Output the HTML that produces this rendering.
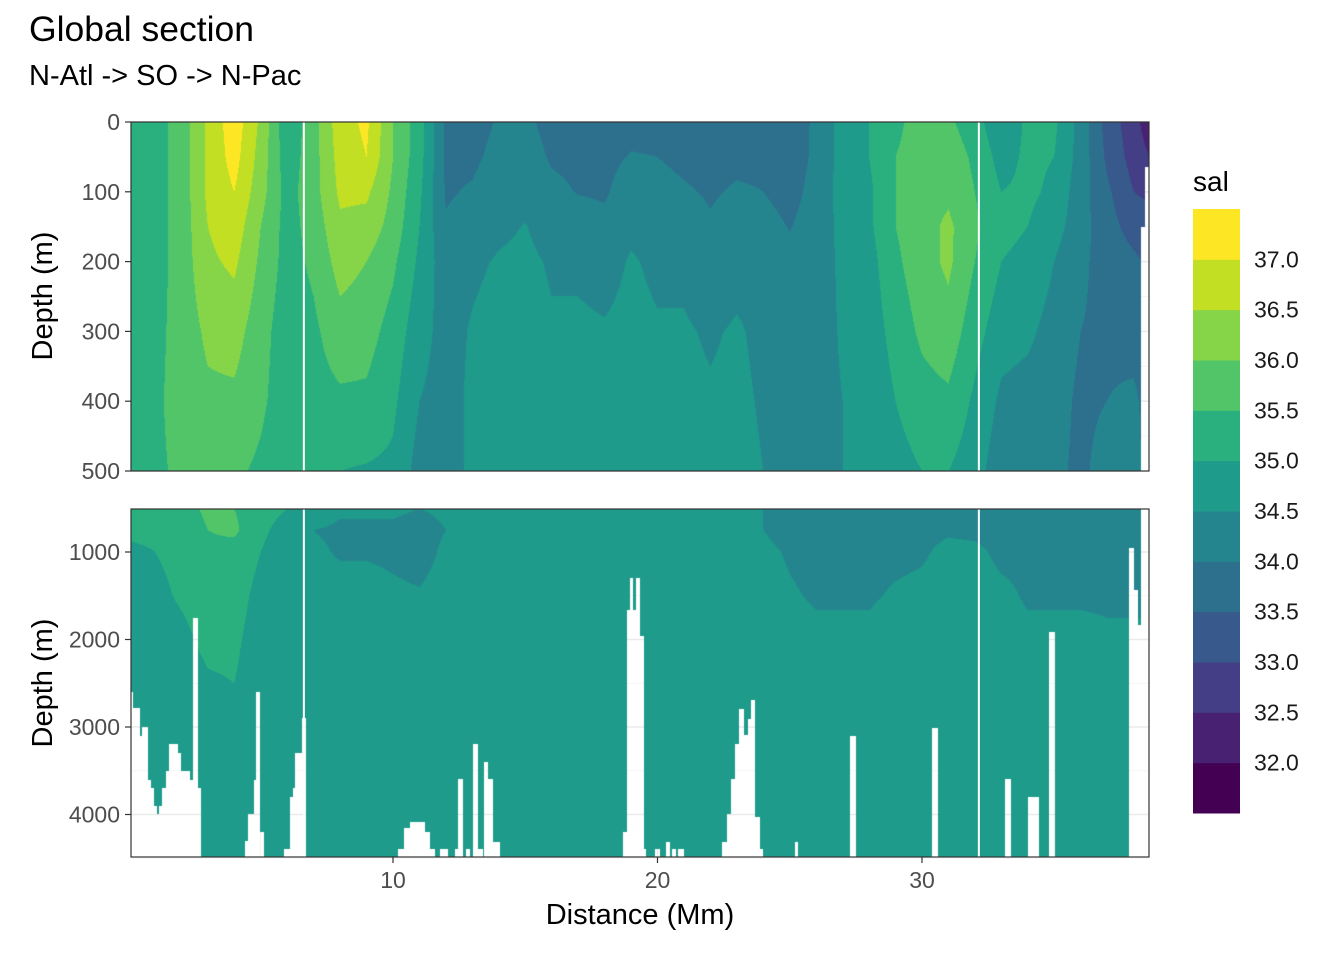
<!DOCTYPE html>
<html><head><meta charset="utf-8">
<style>
html,body{margin:0;padding:0;background:#fff;}
#wrap{position:relative;width:1344px;height:960px;overflow:hidden;font-family:"Liberation Sans",Arial,sans-serif;}
svg,canvas{position:absolute;left:0;top:0;}
</style></head>
<body>
<div id="wrap">
<svg id="bg" width="1344" height="960"></svg>
<canvas id="cTop" width="1018" height="349" style="left:131px;top:122px"></canvas>
<canvas id="cBot" width="1018" height="348" style="left:131px;top:509px"></canvas>
<svg id="fg" width="1344" height="960">
  <text x="29" y="41" font-size="35.5" fill="#000">Global section</text>
  <text x="29" y="85" font-size="29" fill="#000">N-Atl -&gt; SO -&gt; N-Pac</text>
  <text x="640" y="924" font-size="29" text-anchor="middle" fill="#000">Distance (Mm)</text>
  <text transform="translate(52,296) rotate(-90)" font-size="29" text-anchor="middle" fill="#000">Depth (m)</text>
  <text transform="translate(52,683) rotate(-90)" font-size="29" text-anchor="middle" fill="#000">Depth (m)</text>
  <text x="1193" y="191" font-size="28" fill="#000">sal</text>
  <g id="legend"></g>
  <g id="axes"></g>
</svg>
</div>
<script>
// ---- data ----
const stationX = [0,1,2,3,4,5,6,7,8,9,10,11,12,13,14,15,16,17,18,19,20,21,22,23,24,25,26,27,28,29,30,31,32,33,34,35,36,37,38,38.6];
const topDepths = [0,50,100,150,200,300,400,500];
const topSal = [
[35.2,35.2,35.2,35.2,35.2,35.2,35.2,35.2],
[35.3,35.3,35.3,35.3,35.3,35.35,35.4,35.4],
[35.7,35.7,35.7,35.7,35.7,35.7,35.7,35.6],
[36.6,36.6,36.6,36.5,36.4,36.1,35.9,35.7],
[37.3,37.2,37.0,36.8,36.6,36.2,35.9,35.6],
[36.4,36.3,36.2,36.0,35.9,35.7,35.6,35.4],
[35.1,35.2,35.3,35.3,35.3,35.2,35.2,35.1],
[35.8,35.8,35.8,35.7,35.6,35.4,35.3,35.0],
[36.8,36.7,36.6,36.4,36.2,35.8,35.4,35.0],
[37.1,37.0,36.6,36.3,36.0,35.7,35.4,34.95],
[36.0,36.0,35.9,35.8,35.6,35.3,35.1,34.9],
[35.2,35.2,35.1,35.0,34.9,34.7,34.5,34.3],
[33.9,33.9,33.95,34.05,34.2,34.3,34.3,34.3],
[33.8,33.9,34.05,34.2,34.4,34.55,34.6,34.6],
[34.05,34.15,34.3,34.4,34.55,34.7,34.7,34.7],
[34.1,34.2,34.35,34.52,34.6,34.7,34.7,34.7],
[33.85,33.95,34.1,34.3,34.45,34.55,34.6,34.7],
[33.8,33.9,33.98,34.2,34.4,34.6,34.65,34.7],
[33.8,33.9,33.95,34.1,34.3,34.55,34.6,34.7],
[33.9,34.02,34.2,34.4,34.55,34.65,34.7,34.7],
[33.9,34.0,34.15,34.3,34.4,34.55,34.6,34.7],
[33.8,33.9,34.05,34.25,34.4,34.55,34.6,34.7],
[33.8,33.85,33.95,34.05,34.2,34.45,34.55,34.65],
[33.8,33.9,34.05,34.2,34.35,34.55,34.6,34.65],
[33.8,33.9,34.0,34.15,34.3,34.4,34.45,34.5],
[33.7,33.75,33.85,33.98,34.1,34.2,34.25,34.3],
[34.1,34.1,34.15,34.2,34.25,34.3,34.35,34.4],
[34.7,34.7,34.7,34.65,34.6,34.55,34.5,34.5],
[35.0,35.0,34.9,34.9,34.8,34.7,34.6,34.5],
[35.4,35.5,35.5,35.5,35.4,35.2,35.0,34.8],
[35.7,35.7,35.8,35.8,35.8,35.6,35.3,35.0],
[35.6,35.8,35.9,36.1,36.1,35.8,35.4,35.0],
[35.2,35.4,35.5,35.6,35.5,35.2,34.9,34.7],
[34.6,34.8,35.0,35.1,35.0,34.7,34.4,34.2],
[35.1,35.1,35.1,35.0,34.9,34.6,34.3,34.2],
[35.1,35.0,34.9,34.7,34.5,34.3,34.2,34.1],
[34.3,34.3,34.2,34.2,34.1,34.0,33.9,33.9],
[33.3,33.4,33.6,33.7,33.8,33.9,34.0,34.2],
[32.7,32.8,33.0,33.3,33.6,33.8,34.1,34.2],
[32.2,32.5,32.9,33.2,33.4,33.7,33.8,33.8]
];
const botDepths = [500,750,1000,1500,2000,2500,3000,4500];
const botSal = [
[35.2,35.1,34.9,34.8,34.75,34.7,34.7,34.7],
[35.2,35.1,35.0,34.9,34.8,34.7,34.7,34.7],
[35.3,35.2,35.1,35.05,34.9,34.8,34.7,34.7],
[35.6,35.5,35.4,35.2,35.1,34.95,34.8,34.7],
[35.5,35.6,35.3,35.2,35.1,35.0,34.8,34.7],
[35.2,35.1,35.0,34.85,34.75,34.7,34.7,34.7],
[35.0,34.8,34.7,34.7,34.7,34.7,34.7,34.7],
[34.9,34.5,34.6,34.7,34.7,34.7,34.7,34.7],
[34.6,34.4,34.45,34.7,34.7,34.7,34.7,34.7],
[34.6,34.4,34.45,34.7,34.7,34.7,34.7,34.7],
[34.6,34.4,34.4,34.6,34.7,34.7,34.7,34.7],
[34.5,34.3,34.3,34.55,34.7,34.7,34.7,34.7],
[34.6,34.5,34.6,34.7,34.7,34.7,34.7,34.7],
[34.6,34.6,34.7,34.7,34.7,34.7,34.7,34.7],
[34.6,34.6,34.7,34.7,34.7,34.7,34.7,34.7],
[34.6,34.6,34.7,34.7,34.7,34.7,34.7,34.7],
[34.6,34.6,34.7,34.7,34.7,34.7,34.7,34.7],
[34.6,34.6,34.7,34.7,34.7,34.7,34.7,34.7],
[34.6,34.6,34.7,34.7,34.7,34.7,34.7,34.7],
[34.6,34.6,34.7,34.7,34.7,34.7,34.7,34.7],
[34.6,34.6,34.7,34.7,34.7,34.7,34.7,34.7],
[34.6,34.6,34.7,34.7,34.7,34.7,34.7,34.7],
[34.6,34.6,34.7,34.7,34.7,34.7,34.7,34.7],
[34.5,34.5,34.6,34.7,34.7,34.7,34.7,34.7],
[34.5,34.5,34.6,34.7,34.7,34.7,34.7,34.7],
[34.3,34.35,34.45,34.55,34.7,34.7,34.7,34.7],
[34.2,34.3,34.35,34.45,34.6,34.7,34.7,34.7],
[34.2,34.3,34.35,34.45,34.6,34.7,34.7,34.7],
[34.2,34.3,34.35,34.45,34.6,34.7,34.7,34.7],
[34.3,34.35,34.4,34.55,34.7,34.7,34.7,34.7],
[34.3,34.4,34.45,34.6,34.7,34.7,34.7,34.7],
[34.4,34.45,34.6,34.7,34.7,34.7,34.7,34.7],
[34.3,34.4,34.6,34.7,34.7,34.7,34.7,34.7],
[34.2,34.3,34.4,34.6,34.7,34.7,34.7,34.7],
[34.2,34.3,34.4,34.45,34.6,34.7,34.7,34.7],
[34.2,34.3,34.4,34.45,34.6,34.7,34.7,34.7],
[34.2,34.3,34.4,34.45,34.6,34.7,34.7,34.7],
[34.3,34.35,34.4,34.45,34.55,34.7,34.7,34.7],
[34.3,34.35,34.4,34.45,34.55,34.7,34.7,34.7],
[34.3,34.35,34.4,34.45,34.55,34.7,34.7,34.7]
];
// bathymetry: [xStart Mm, xEnd Mm, seafloor depth m]
const bottomSegments = [
[0.0,0.17,2600],[0.17,0.43,2780],[0.43,0.51,3100],[0.51,0.74,3000],[0.74,0.85,3610],[0.85,0.96,3700],
[0.96,1.08,3900],[1.08,1.15,4000],[1.15,1.27,3900],[1.27,1.42,3700],[1.42,1.53,3500],[1.53,1.87,3200],
[1.87,1.98,3300],[1.98,2.33,3500],[2.33,2.44,3610],[2.44,2.63,1750],[2.63,2.74,3700],
[4.40,4.52,4300],[4.52,4.74,4000],[4.74,4.82,3610],[4.82,4.97,2600],[4.97,5.12,4200],
[5.88,6.10,4400],[6.10,6.22,3800],[6.22,6.29,3700],[6.29,6.56,3300],[6.56,6.71,2900],
[10.19,10.42,4400],[10.42,10.64,4150],[10.64,11.21,4090],[11.21,11.40,4200],[11.40,11.59,4400],
[11.77,12.08,4400],[12.34,12.46,4400],[12.46,12.65,3600],[12.76,12.90,4400],[13.02,13.21,3200],
[13.21,13.40,4400],[13.44,13.59,3400],[13.59,13.78,3600],[13.78,14.05,4310],
[18.69,18.85,4200],[18.85,18.96,1660],[18.96,19.07,1300],[19.07,19.19,1660],[19.19,19.34,1300],
[19.34,19.49,1960],[19.49,19.57,4400],[19.90,20.08,4400],[20.31,20.47,4310],[20.55,20.70,4400],[20.77,21.00,4400],
[22.44,22.63,4310],[22.63,22.78,4000],[22.78,22.93,3600],[22.93,23.08,3200],[23.08,23.27,2800],
[23.27,23.42,3090],[23.42,23.53,2910],[23.53,23.68,2690],[23.68,23.87,4030],[23.87,23.99,4400],
[25.20,25.31,4310],[27.28,27.51,3100],[30.38,30.60,3010],[33.14,33.36,3600],[34.02,34.44,3800],
[34.80,35.03,1910],[37.83,38.02,955],[38.02,38.17,1430],[38.17,38.28,1840],[38.28,38.43,150],[38.43,38.8,65]
];
const sectionBreaks = [6.63, 32.15];
const legendBreaks = [32.0,32.5,33.0,33.5,34.0,34.5,35.0,35.5,36.0,36.5,37.0];
const legendColors = ["#440154","#482173","#433E85","#38598C","#2D708E","#25858E","#1E9B8A","#2AB07F","#52C569","#86D549","#C2DF23","#FDE725"];
const xTicks = [10,20,30];
const xMinorTicks = [5,15,25,35];
const topTicks = [0,100,200,300,400,500];
const topMinor = [50,150,250,350,450];
const botTicks = [1000,2000,3000,4000];
const botMinor = [1500,2500,3500,4500];

// ---- scales ----
const PX0=131, PX1=1149, XMIN=0.095, XK=26.45;
const xS = x => PX0 + (x - XMIN) * XK;
const xInv = px => XMIN + (px - PX0) / XK;
const topY = d => 122 + d * 0.698;
const topInv = py => (py - 122) / 0.698;
const botY = d => 552 + (d - 1000) * 0.0875;
const botInv = py => 1000 + (py - 552) / 0.0875;
const NS='http://www.w3.org/2000/svg';
function mk(parent, tag, attrs){const e=document.createElementNS(NS,tag);for(const k in attrs)e.setAttribute(k,attrs[k]);parent.appendChild(e);return e;}

// ---- grid ----
const bg=document.getElementById('bg');
function gridPanel(y0,y1,yf,maj,min){
  for(const t of min){const l=mk(bg,'line',{x1:PX0,x2:PX1,y1:yf(t),y2:yf(t),stroke:'#F2F2F2','stroke-width':0.8});
    }
  for(const t of xMinorTicks){const l=mk(bg,'line',{x1:xS(t),x2:xS(t),y1:y0,y2:y1,stroke:'#F2F2F2','stroke-width':0.8});
    }
  for(const t of maj){const l=mk(bg,'line',{x1:PX0,x2:PX1,y1:yf(t),y2:yf(t),stroke:'#EBEBEB','stroke-width':1.6});
    }
  for(const t of xTicks){const l=mk(bg,'line',{x1:xS(t),x2:xS(t),y1:y0,y2:y1,stroke:'#EBEBEB','stroke-width':1.6});
    }
}
gridPanel(122,471,topY,topTicks,topMinor);
gridPanel(509,857,botY,botTicks,botMinor);

// ---- contour rendering ----
function hexRgb(h){return [parseInt(h.substr(1,2),16),parseInt(h.substr(3,2),16),parseInt(h.substr(5,2),16)];}
const rgbs=legendColors.map(hexRgb);
function binColor(s){let i=0;while(i<legendBreaks.length&&s>=legendBreaks[i])i++;return rgbs[i];}
function interp(arr,v){
  if(v<=arr[0])return [0,0];
  for(let i=0;i<arr.length-1;i++){if(v<=arr[i+1])return [i,(v-arr[i])/(arr[i+1]-arr[i])];}
  return [arr.length-2,1];
}
function seafloor(x){for(const s of bottomSegments){if(x>=s[0]&&x<s[1])return s[2];}return 1e9;}
function render(id,depths,sal,top,inv){
  const c=document.getElementById(id),ctx=c.getContext('2d');
  const W=c.width,H=c.height,img=ctx.createImageData(W,H),d=img.data;
  for(let px=0;px<W;px++){
    const x=xInv(PX0+px+0.5);const [i,fx]=interp(stationX,x);const floor=seafloor(x);
    for(let py=0;py<H;py++){
      const dep=inv(top+py+0.5);const o=(py*W+px)*4;
      if(dep>=floor){d[o+3]=0;continue;}
      const [j,fy]=interp(depths,dep);
      const a=sal[i][j]*(1-fy)+sal[i][j+1]*fy, b=sal[i+1][j]*(1-fy)+sal[i+1][j+1]*fy;
      const col=binColor(a*(1-fx)+b*fx);
      d[o]=col[0];d[o+1]=col[1];d[o+2]=col[2];d[o+3]=255;
    }
  }
  ctx.putImageData(img,0,0);
}
render('cTop',topDepths,topSal,122,topInv);
render('cBot',botDepths,botSal,509,botInv);

// ---- axes / overlay ----
const ax=document.getElementById('axes');
for(const b of sectionBreaks){
  for(const [y0,y1] of [[122,471],[509,857]]){
    const l=mk(ax,'line',{x1:xS(b),x2:xS(b),y1:y0,y2:y1,stroke:'#fff','stroke-width':2});
    
  }
}
for(const [y0,y1,name] of [[122,471,'upper-panel-border'],[509,857,'lower-panel-border']]){
  const r=mk(ax,'rect',{x:PX0,y:y0,width:PX1-PX0,height:y1-y0,fill:'none',stroke:'#333','stroke-width':1.2});
  
}
function yAxis(ticks,yf){
  for(const t of ticks){const y=yf(t);
    const tk=mk(ax,'line',{x1:125,x2:131,y1:y,y2:y,stroke:'#333','stroke-width':1.2});
    
    const tx=mk(ax,'text',{x:120,y:y+8,'font-size':23,'text-anchor':'end',fill:'#4D4D4D'});tx.textContent=t;
    }
}
yAxis(topTicks,topY);yAxis(botTicks,botY);
for(const t of xTicks){const x=xS(t);
  const tk=mk(ax,'line',{x1:x,x2:x,y1:857,y2:863,stroke:'#333','stroke-width':1.2});
  
  const tx=mk(ax,'text',{x:x,y:888,'font-size':23,'text-anchor':'middle',fill:'#4D4D4D'});tx.textContent=t;
  }

// ---- legend ----
const lg=document.getElementById('legend');
const LT=209,LB=813,binH=(LB-LT)/legendColors.length;
for(let k=0;k<legendColors.length;k++){
  const r=mk(lg,'rect',{x:1193,y:LB-(k+1)*binH,width:47,height:binH+0.5,fill:legendColors[k]});
  
}
for(let k=0;k<legendBreaks.length;k++){
  const y=LB-(k+1)*binH;
  const tx=mk(lg,'text',{x:1254,y:y+8,'font-size':23,fill:'#1A1A1A'});tx.textContent=legendBreaks[k].toFixed(1);
  
}
</script>
</body></html>
